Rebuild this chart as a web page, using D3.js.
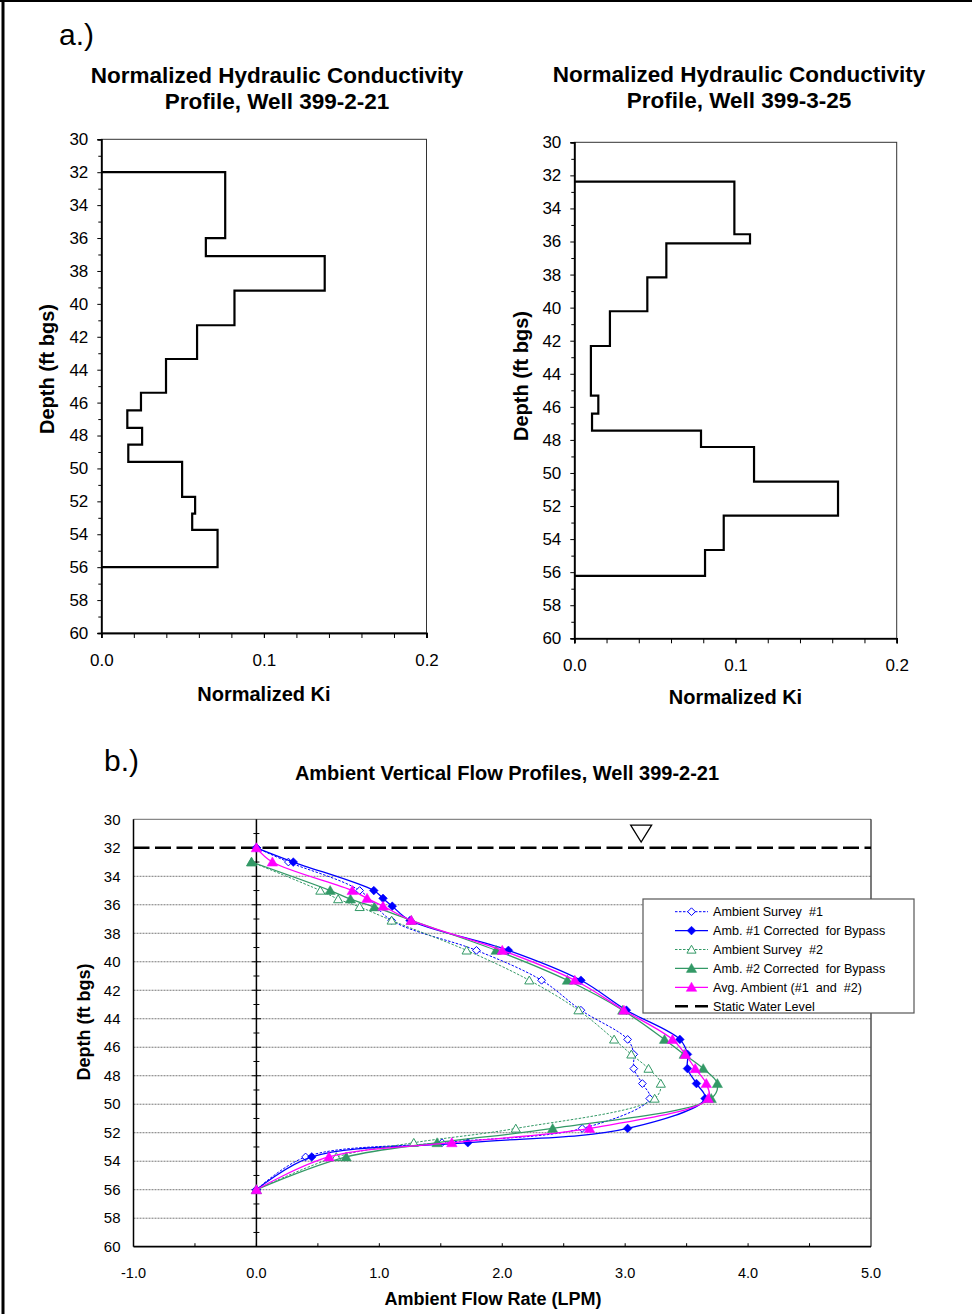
<!DOCTYPE html>
<html>
<head>
<meta charset="utf-8">
<script src="https://cdn.jsdelivr.net/npm/d3@7"></script>
<style>
  body { margin: 0; background: #fff; }
  svg { display: block; font-family: Arial, "Liberation Sans", Helvetica, sans-serif; }
</style>
</head>
<body>
<svg id="fig" width="972" height="1314"></svg>
<script>
// ---------- Normalized Ki profiles (interval boundaries in ft bgs, Ki per interval) ----------
const wellA_breaks = [32, 36, 37.1, 39.2, 41.3, 43.35, 45.4, 46.47, 47.53, 48.55, 49.6, 51.73, 52.75, 53.73, 56];
const wellA_ki     = [0.0762, 0.0643, 0.1374, 0.0819, 0.0589, 0.0398, 0.0244, 0.016, 0.0251, 0.0166, 0.0497, 0.0577, 0.0559, 0.0715];

const wellB_breaks = [32.38, 35.56, 36.11, 38.17, 40.22, 42.32, 45.32, 46.41, 47.44, 48.43, 50.52, 52.58, 54.66, 56.23];
const wellB_ki     = [0.0993, 0.109, 0.0571, 0.0453, 0.0221, 0.0103, 0.0149, 0.011, 0.0786, 0.1115, 0.1636, 0.0927, 0.0811];

const kiTickLabels = [0, 0.1, 0.2];
const depthTickLabels = d3.range(30, 61, 2);

// ---------- Ambient vertical flow (LPM) by depth (ft bgs) ----------
const survey1_depth = [32, 33, 35, 37.1, 39.2, 41.3, 43.4, 45.45, 46.5, 47.5, 48.55, 49.6, 51.7, 52.7, 53.7, 56];
const survey1_flow  = [0, 0.26, 0.84, 1.10, 1.79, 2.32, 2.64, 3.02, 3.07, 3.07, 3.14, 3.20, 2.65, 1.51, 0.40, 0];

const corr1_depth = [32, 33, 35, 35.55, 36.1, 37.1, 39.2, 41.3, 43.4, 45.45, 46.5, 47.5, 48.55, 49.6, 51.7, 52.7, 53.7, 56];
const corr1_flow  = [0, 0.30, 0.955, 1.03, 1.105, 1.25, 2.05, 2.64, 3.01, 3.445, 3.507, 3.507, 3.58, 3.65, 3.02, 1.72, 0.45, 0];

const survey2_depth = [33, 35, 35.6, 36.15, 37.1, 39.2, 41.3, 43.4, 45.45, 46.5, 47.5, 48.55, 49.6, 51.7, 52.7, 53.7, 56];
const survey2_flow  = [-0.04, 0.52, 0.665, 0.84, 1.10, 1.71, 2.22, 2.62, 2.91, 3.05, 3.19, 3.29, 3.24, 2.11, 1.28, 0.65, 0];

const corr2_depth = [33, 35, 35.6, 36.15, 37.1, 39.2, 41.3, 43.4, 45.45, 46.5, 47.5, 48.55, 49.6, 51.7, 52.7, 53.7, 56];
const corr2_flow  = [-0.04, 0.60, 0.765, 0.96, 1.26, 1.95, 2.53, 2.98, 3.32, 3.48, 3.635, 3.75, 3.70, 2.41, 1.47, 0.73, 0];

const avg_depth = [32, 33, 35, 35.55, 36.1, 37.1, 39.2, 41.3, 43.4, 45.45, 46.5, 47.5, 48.55, 49.6, 51.7, 52.7, 53.7, 56];
const avg_flow  = [0, 0.13, 0.78, 0.90, 1.03, 1.26, 2.00, 2.59, 2.99, 3.385, 3.49, 3.57, 3.66, 3.675, 2.71, 1.59, 0.59, 0];

const staticWaterLevel = 32;
const flowTickLabels = d3.range(-1, 5.01, 1);

const seriesNames = [
  "Ambient Survey  #1",
  "Amb. #1 Corrected  for Bypass",
  "Ambient Survey  #2",
  "Amb. #2 Corrected  for Bypass",
  "Avg. Ambient (#1  and  #2)",
  "Static Water Level"
];

// plain hyphen for negative tick values
const fmt1 = v => d3.format(".1f")(v).replace("\u2212", "-");

// square diamond marker (equal width and height)
const squareDiamond = {
  draw(context, size) {
    const r = Math.sqrt(size / 2);
    context.moveTo(0, -r);
    context.lineTo(r, 0);
    context.lineTo(0, r);
    context.lineTo(-r, 0);
    context.closePath();
  }
};

const svg = d3.select("#fig");

// outer frame (left and top rules)
svg.append("line").attr("x1", 3).attr("x2", 3).attr("y1", 0).attr("y2", 1314)
  .attr("stroke", "#000").attr("stroke-width", 3);
svg.append("line").attr("x1", 0).attr("x2", 972).attr("y1", 1).attr("y2", 1)
  .attr("stroke", "#000").attr("stroke-width", 2);

// panel letters
svg.append("text").attr("x", 59).attr("y", 45).attr("font-size", 30).text("a.)");
svg.append("text").attr("x", 104).attr("y", 771).attr("font-size", 30).text("b.)");

// ---------- step-profile panels ----------
function stepPoints(breaks, ki) {
  const pts = [[0, breaks[0]]];
  ki.forEach((k, i) => { pts.push([k, breaks[i]]); pts.push([k, breaks[i + 1]]); });
  pts.push([0, breaks[breaks.length - 1]]);
  return pts;
}

function kiPanel(cfg) {
  const x = d3.scaleLinear().domain([0, 0.2]).range([cfg.left, cfg.right]);
  const y = d3.scaleLinear().domain([30, 60]).range([cfg.top, cfg.bottom]);
  const g = svg.append("g");

  // frame
  g.append("rect").attr("x", cfg.left).attr("y", cfg.top)
    .attr("width", cfg.right - cfg.left).attr("height", cfg.bottom - cfg.top)
    .attr("fill", "none").attr("stroke", "#333").attr("stroke-width", 1);

  // y axis: labelled every 2 ft, minor every 1 ft
  const yMinor = g.append("g").attr("transform", `translate(${cfg.left},0)`)
    .call(d3.axisLeft(y).tickValues(d3.range(31, 60, 2)).tickSize(3).tickFormat(""));
  const yMajor = g.append("g").attr("transform", `translate(${cfg.left},0)`)
    .call(d3.axisLeft(y).tickValues(depthTickLabels).tickSize(4).tickPadding(9).tickFormat(d3.format("d")));
  // x axis: ticks every 0.02, labels at 0.0 / 0.1 / 0.2
  const xMinor = g.append("g").attr("transform", `translate(0,${cfg.bottom})`)
    .call(d3.axisBottom(x).tickValues(d3.range(0, 0.2001, 0.02)).tickSize(5).tickFormat(""));
  const xMajor = g.append("g").attr("transform", `translate(0,${cfg.bottom})`)
    .call(d3.axisBottom(x).tickValues(kiTickLabels).tickSize(5).tickPadding(16).tickFormat(fmt1));
  [yMinor, yMajor, xMinor, xMajor].forEach(a => {
    a.select(".domain").attr("stroke", "#000").attr("stroke-width", 1.5);
    a.selectAll(".tick line").attr("stroke", "#000").attr("stroke-width", 1);
    a.selectAll("text").attr("font-size", 17).attr("fill", "#000").attr("font-family", null);
  });

  // profile
  const line = d3.line().x(d => x(d[0])).y(d => y(d[1]));
  g.append("path").attr("d", line(stepPoints(cfg.breaks, cfg.ki)))
    .attr("fill", "none").attr("stroke", "#000").attr("stroke-width", 2.2)
    .attr("stroke-linejoin", "miter");

  // titles
  const t = g.append("text").attr("text-anchor", "middle").attr("font-weight", "bold").attr("font-size", 22.5);
  t.append("tspan").attr("x", cfg.titleX).attr("y", cfg.titleY).text("Normalized Hydraulic Conductivity");
  t.append("tspan").attr("x", cfg.titleX).attr("y", cfg.titleY + 26).text(cfg.title2);

  g.append("text").attr("x", (cfg.left + cfg.right) / 2).attr("y", cfg.xTitleY)
    .attr("text-anchor", "middle").attr("font-weight", "bold").attr("font-size", 20).text("Normalized Ki");
  g.append("text").attr("transform", `translate(${cfg.yTitleX},${cfg.yTitleY}) rotate(-90)`)
    .attr("dy", "0.35em").attr("text-anchor", "middle").attr("font-weight", "bold").attr("font-size", 20)
    .text("Depth (ft bgs)");
}

kiPanel({ left: 101.3, right: 426.5, top: 139.3, bottom: 633, breaks: wellA_breaks, ki: wellA_ki,
  titleX: 277, titleY: 83, title2: "Profile, Well 399-2-21", xTitleY: 701, yTitleX: 47, yTitleY: 369 });
kiPanel({ left: 574.3, right: 896.7, top: 142.3, bottom: 638.3, breaks: wellB_breaks, ki: wellB_ki,
  titleX: 739, titleY: 82, title2: "Profile, Well 399-3-25", xTitleY: 704, yTitleX: 521, yTitleY: 376 });

// ---------- ambient flow panel ----------
const fx = d3.scaleLinear().domain([-1, 5]).range([133.5, 871]);
const fy = d3.scaleLinear().domain([30, 60]).range([819.3, 1246.7]);
const fg = svg.append("g");

// grid lines every 2 ft
fg.selectAll("line.grid").data(d3.range(34, 59, 2)).join("line")
  .attr("x1", fx(-1)).attr("x2", fx(5)).attr("y1", d => fy(d)).attr("y2", d => fy(d))
  .attr("stroke", "#777").attr("stroke-width", 1).attr("stroke-dasharray", "2,1");
// plot frame
fg.append("line").attr("x1", fx(-1)).attr("x2", fx(5)).attr("y1", fy(30)).attr("y2", fy(30))
  .attr("stroke", "#888").attr("stroke-width", 1.2);
fg.append("line").attr("x1", fx(5)).attr("x2", fx(5)).attr("y1", fy(30)).attr("y2", fy(60))
  .attr("stroke", "#222").attr("stroke-width", 1.2);
fg.append("line").attr("x1", fx(-1)).attr("x2", fx(-1)).attr("y1", fy(30)).attr("y2", fy(60))
  .attr("stroke", "#000").attr("stroke-width", 1.5);

// zero-flow axis with crossing ticks
fg.append("line").attr("x1", fx(0)).attr("x2", fx(0)).attr("y1", fy(30)).attr("y2", fy(60))
  .attr("stroke", "#000").attr("stroke-width", 1.5);
fg.selectAll("line.ztick").data(d3.range(31, 60, 1)).join("line")
  .attr("x1", d => fx(0) - (d % 2 === 0 ? 4.5 : 3)).attr("x2", d => fx(0) + (d % 2 === 0 ? 4.5 : 3))
  .attr("y1", d => fy(d)).attr("y2", d => fy(d)).attr("stroke", "#000").attr("stroke-width", 1);

// bottom axis: ticks every 0.5 pointing inward, labels every 1.0
fg.append("line").attr("x1", fx(-1)).attr("x2", fx(5)).attr("y1", fy(60)).attr("y2", fy(60))
  .attr("stroke", "#000").attr("stroke-width", 1.8);
fg.selectAll("line.xtick").data(d3.range(-0.5, 5, 0.5)).join("line")
  .attr("x1", d => fx(d)).attr("x2", d => fx(d)).attr("y1", fy(60)).attr("y2", fy(60) - 3.5)
  .attr("stroke", "#000").attr("stroke-width", 1);
fg.selectAll("text.xlab").data(flowTickLabels).join("text")
  .attr("x", d => fx(d)).attr("y", fy(60) + 31).attr("text-anchor", "middle").attr("font-size", 14.5)
  .text(fmt1);
fg.selectAll("text.ylab").data(depthTickLabels).join("text")
  .attr("x", fx(-1) - 13).attr("y", d => fy(d)).attr("dy", "0.35em").attr("text-anchor", "end")
  .attr("font-size", 15).text(d => d);

// static water level
fg.append("line").attr("x1", fx(-1)).attr("x2", fx(5)).attr("y1", fy(staticWaterLevel)).attr("y2", fy(staticWaterLevel))
  .attr("stroke", "#000").attr("stroke-width", 2.6).attr("stroke-dasharray", "16,5.5");
// water-table symbol
const wtX = fx(3.13), wtY = fy(31);
fg.append("path").attr("d", `M${wtX - 10.5},${wtY - 8.5}L${wtX + 10.5},${wtY - 8.5}L${wtX},${wtY + 8.5}Z`)
  .attr("fill", "#fff").attr("stroke", "#000").attr("stroke-width", 1.3);

// series
const series = [
  { name: seriesNames[0], depth: survey1_depth, flow: survey1_flow, color: "#0000ff", dash: "2.5,1.5", width: 1, symbol: squareDiamond, size: 30, filled: false },
  { name: seriesNames[1], depth: corr1_depth, flow: corr1_flow, color: "#0000ff", dash: null, width: 1.3, symbol: squareDiamond, size: 38, filled: true },
  { name: seriesNames[2], depth: survey2_depth, flow: survey2_flow, color: "#339966", dash: "2.5,1.5", width: 1, symbol: d3.symbolTriangle, size: 36, filled: false },
  { name: seriesNames[3], depth: corr2_depth, flow: corr2_flow, color: "#339966", dash: null, width: 1.3, symbol: d3.symbolTriangle, size: 46, filled: true },
  { name: seriesNames[4], depth: avg_depth, flow: avg_flow, color: "#ff00ff", dash: null, width: 1.3, symbol: d3.symbolTriangle, size: 48, filled: true }
];

const curve = d3.line().x(d => fx(d[0])).y(d => fy(d[1])).curve(d3.curveCatmullRom.alpha(0.5));
series.forEach(s => {
  const pts = s.flow.map((v, i) => [v, s.depth[i]]);
  fg.append("path").attr("d", curve(pts)).attr("fill", "none")
    .attr("stroke", s.color).attr("stroke-width", s.width).attr("stroke-dasharray", s.dash);
  fg.selectAll(null).data(pts).join("path")
    .attr("transform", d => `translate(${fx(d[0])},${fy(d[1]) + (s.symbol === d3.symbolTriangle ? 1 : 0)})`)
    .attr("d", d3.symbol(s.symbol, s.size))
    .attr("fill", s.filled ? s.color : "#fff").attr("stroke", s.color).attr("stroke-width", s.filled ? 0.5 : 1);
});

// legend
const lg = svg.append("g").attr("transform", "translate(643,899)");
lg.append("rect").attr("x", 0).attr("y", 0).attr("width", 271).attr("height", 114)
  .attr("fill", "#fff").attr("stroke", "#555").attr("stroke-width", 1.2);
const rowH = 18.9;
series.forEach((s, i) => {
  const yy = 12.7 + i * rowH;
  lg.append("line").attr("x1", 32).attr("x2", 65).attr("y1", yy).attr("y2", yy)
    .attr("stroke", s.color).attr("stroke-width", s.width).attr("stroke-dasharray", s.dash);
  lg.append("path").attr("transform", `translate(48.5,${yy + (s.symbol === d3.symbolTriangle ? 1 : 0)})`)
    .attr("d", d3.symbol(s.symbol, s.size))
    .attr("fill", s.filled ? s.color : "#fff").attr("stroke", s.color).attr("stroke-width", s.filled ? 0.5 : 1);
  lg.append("text").attr("x", 70).attr("y", yy).attr("dy", "0.35em").attr("font-size", 12.6)
    .attr("xml:space", "preserve").style("white-space", "pre").text(s.name);
});
{
  const yy = 12.7 + 5 * rowH;
  lg.append("line").attr("x1", 32).attr("x2", 65).attr("y1", yy).attr("y2", yy)
    .attr("stroke", "#000").attr("stroke-width", 2.4).attr("stroke-dasharray", "13,7");
  lg.append("text").attr("x", 70).attr("y", yy).attr("dy", "0.35em").attr("font-size", 12.6).text(seriesNames[5]);
}

// titles
fg.append("text").attr("x", 507).attr("y", 780).attr("text-anchor", "middle").attr("font-weight", "bold")
  .attr("font-size", 20).text("Ambient Vertical Flow Profiles, Well 399-2-21");
fg.append("text").attr("x", 493).attr("y", 1305).attr("text-anchor", "middle").attr("font-weight", "bold")
  .attr("font-size", 18).text("Ambient Flow Rate (LPM)");
fg.append("text").attr("transform", "translate(84,1022) rotate(-90)").attr("dy", "0.35em")
  .attr("text-anchor", "middle").attr("font-weight", "bold").attr("font-size", 18).text("Depth (ft bgs)");
</script>
</body>
</html>
